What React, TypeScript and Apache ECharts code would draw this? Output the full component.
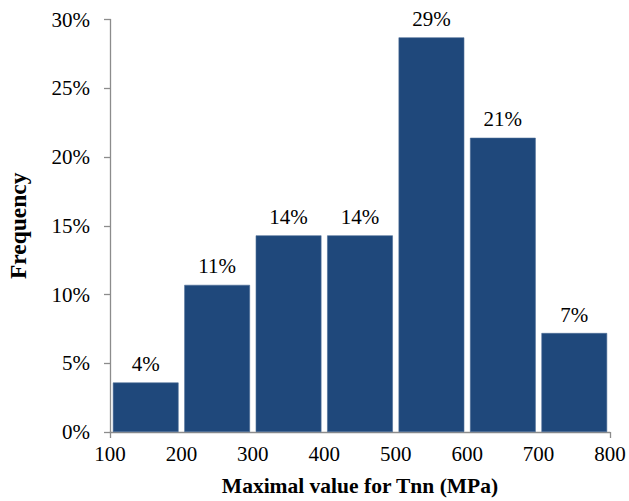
import React, { useEffect, useRef } from "react";
import * as echarts from "echarts";

const binLabels = ["100-200", "200-300", "300-400", "400-500", "500-600", "600-700", "700-800"];
const frequencies = [0.036, 0.107, 0.143, 0.143, 0.287, 0.214, 0.072];
const edgeLabels = ["100", "200", "300", "400", "500", "600", "700", "800"];

const FONT = '"Liberation Serif", "Times New Roman", serif';
const AXIS_COLOR = "#8c8c8c";

export default function App() {
  const ref = useRef<HTMLDivElement>(null);
  useEffect(() => {
    if (!ref.current) return;
    const chart = echarts.init(ref.current, undefined, { renderer: "svg" });
    chart.setOption({
      animation: false,
      backgroundColor: "#ffffff",
      textStyle: { fontFamily: FONT },
      grid: {
        left: 110,
        right: 19,
        top: 19.5,
        bottom: 69,
        containLabel: false,
        outerBoundsMode: "none",
      },
      xAxis: [
        {
          type: "category",
          data: binLabels,
          show: false,
        },
        {
          type: "category",
          data: edgeLabels,
          boundaryGap: false,
          position: "bottom",
          axisLine: { show: true, lineStyle: { color: AXIS_COLOR, width: 1.3 } },
          axisTick: {
            show: true,
            length: 6,
            inside: false,
            interval: (index: number) => index === 0 || index === edgeLabels.length - 1,
            lineStyle: { color: AXIS_COLOR, width: 1.3 },
          },
          axisLabel: { color: "#000", fontSize: 21, fontFamily: FONT, margin: 11, interval: 0 },
          splitLine: { show: false },
          name: "Maximal value for Tnn (MPa)",
          nameLocation: "middle",
          nameGap: 43,
          nameTextStyle: { color: "#000", fontSize: 21.5, fontWeight: "bold", fontFamily: FONT },
        },
      ],
      yAxis: {
        type: "value",
        min: 0,
        max: 0.3,
        interval: 0.05,
        axisLine: { show: true, lineStyle: { color: AXIS_COLOR, width: 1.3 } },
        axisTick: { show: true, length: 6, inside: false, lineStyle: { color: AXIS_COLOR, width: 1.3 } },
        axisLabel: {
          color: "#000",
          fontSize: 21,
          fontFamily: FONT,
          margin: 20,
          formatter: (v: number) => `${Math.round(v * 100)}%`,
        },
        splitLine: { show: false },
        name: "Frequency",
        nameLocation: "middle",
        nameGap: 80,
        nameRotate: 90,
        nameTextStyle: { color: "#000", fontSize: 23.5, fontWeight: "bold", fontFamily: FONT },
      },
      series: [
        {
          type: "bar",
          xAxisIndex: 0,
          data: frequencies,
          barWidth: "92%",
          itemStyle: { color: "#1f487b", borderColor: "#4b6b96", borderWidth: 0.6 },
          label: {
            show: true,
            position: "top",
            distance: 8,
            color: "#000",
            fontSize: 21,
            fontFamily: FONT,
            formatter: (p: any) => `${Math.round(p.value * 100)}%`,
          },
        },
      ],
    });
    return () => chart.dispose();
  }, []);
  return (
    <div
      ref={ref}
      style={{ position: "fixed", left: 0, top: 0, width: 629, height: 501 }}
    />
  );
}
